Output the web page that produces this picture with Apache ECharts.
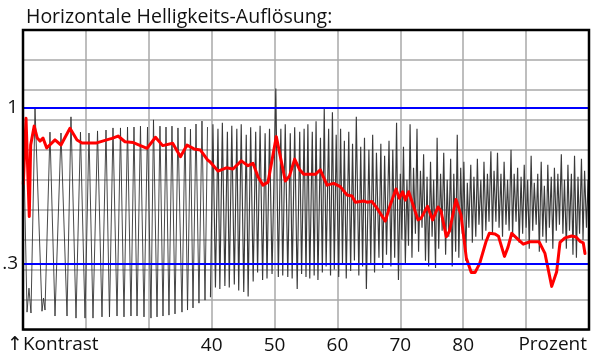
<!DOCTYPE html>
<html><head><meta charset="utf-8">
<script src="https://cdn.jsdelivr.net/npm/echarts@6/dist/echarts.min.js"></script>
<style>html,body{margin:0;padding:0;background:#fff}#c{width:600px;height:364px}</style>
</head><body><div id="c"></div>
<script>
// ---- data (x = Prozent 10..100, y = grid units, 0.1 decade each, 0 at bottom) ----
const titleText = 'Horizontale Helligkeits-Auflösung:';
const xLabeledTicks = [40, 50, 60, 70, 80];
const xLeftLabel = '\u2191Kontrast';
const xRightLabel = 'Prozent';
const refLevelNames = ['1', '.3'];
const refLevelValues = [7.41, 2.21];

const redLine = [
[10.05,4.86],[10.48,7.05],[11.0,3.77],[11.22,6.16],[11.78,6.79],[12.27,6.39],[12.70,6.29],[13.18,6.39],
[13.77,6.06],[15.09,6.33],[16.04,6.16],[17.47,6.72],[18.59,6.33],[19.38,6.23],[21.72,6.23],[23.31,6.33],
[24.15,6.38],[25.11,6.46],[26.22,6.27],[27.54,6.24],[29.72,6.05],[31.07,6.42],[32.21,6.14],[33.80,6.22],
[35.04,5.77],[36.08,6.16],[37.19,6.03],[38.22,5.99],[39.34,5.66],[39.73,5.60],[41.01,5.29],[42.33,5.40],
[43.39,5.36],[44.71,5.63],[45.78,5.47],[46.57,5.55],[47.37,5.10],[48.16,4.82],[48.96,4.92],[50.28,6.44],
[51.71,4.96],[52.38,5.13],[53.20,5.69],[54.0,5.33],[54.68,5.18],[56.48,5.18],[57.27,5.33],[58.34,4.82],
[59.40,4.88],[60.45,4.77],[61.52,4.49],[62.31,4.46],[62.84,4.25],[64.17,4.29],[64.70,4.25],[65.49,4.27],
[66.29,4.05],[67.61,3.62],[68.40,4.16],[69.31,4.69],[69.83,4.38],[70.37,4.60],[70.79,4.32],[71.33,4.60],
[72.81,3.66],[73.28,3.71],[74.32,4.11],[75.14,3.66],[75.99,4.09],[76.46,3.96],[77.31,3.10],[77.82,3.29],
[78.85,4.34],[79.65,3.82],[80.49,2.39],[81.28,1.90],[81.87,1.90],[82.62,2.21],[83.62,2.93],[84.15,3.21],
[85.05,3.19],[85.61,3.11],[86.56,2.44],[87.12,2.75],[87.71,3.21],[88.76,3.00],[89.55,2.85],[90.62,2.93],
[92.05,2.93],[92.21,2.99],[93.0,2.54],[94.07,1.44],[94.86,1.93],[95.39,2.91],[96.18,3.06],[97.25,3.12],
[97.93,3.09],[98.65,2.93],[99.09,2.89],[99.36,2.54]
];

const blackLine = [
[10.05,6.70],[10.64,0.58],[10.95,1.38],[11.27,0.55],[11.91,7.40],[13.02,0.61],[13.26,1.05],[13.50,0.65],
[14.29,6.59],[15.09,0.45],[16.04,6.56],[17.0,0.45],[17.63,7.10],[18.43,0.38],[19.14,6.59],[19.86,0.38],
[20.49,6.56],[21.13,0.38],[21.85,6.63],[22.56,0.42],[23.20,6.66],[23.75,0.42],[24.31,6.73],[24.95,0.45],
[25.50,6.73],[26.06,0.42],[26.62,6.76],[27.17,0.45],[27.65,6.76],[28.13,0.45],[28.68,6.79],[29.24,0.42],
[29.80,6.76],[30.35,0.38],[30.75,7.00],[31.31,0.42],[31.78,6.79],[32.26,0.45],[32.74,6.76],[33.21,0.48],
[33.69,6.79],[34.17,0.52],[34.64,6.73],[35.28,0.58],[35.76,6.76],[36.16,0.65],[36.63,6.69],[37.03,0.72],
[37.51,6.86],[37.98,0.88],[38.46,6.96],[38.94,0.98],[39.34,6.76],[39.81,1.08],
[40.2,6.85],[40.6,1.40],[41.0,6.70],[41.3,1.35],[41.7,6.90],[42.1,1.45],[42.5,6.60],[42.8,1.40],
[43.2,6.80],[43.6,1.50],[44.0,6.70],[44.3,1.30],[44.7,6.85],[45.1,1.25],[45.5,6.50],[45.8,1.10],
[46.2,6.75],[46.6,1.60],[47.0,6.60],[47.3,1.90],[47.7,6.80],[48.1,1.65],[48.5,6.55],[48.8,1.70],
[49.2,6.70],[49.6,1.85],[50.2,8.05],[50.6,1.75],[51.0,6.70],[51.3,1.80],[51.7,6.85],[52.1,1.75],
[52.5,6.55],[52.8,1.70],[53.2,6.75],[53.6,1.35],[54.0,6.60],[54.3,1.85],[54.7,6.70],
[55.0,1.75],[55.3,6.85],[55.6,1.70],[56.0,6.60],[56.3,1.80],[56.6,6.95],[56.9,1.65],[57.3,6.40],
[57.6,1.90],[57.9,7.40],[58.2,2.10],[58.6,6.70],[58.9,1.80],[59.2,7.25],[59.5,2.00],[59.8,6.50],
[60.2,1.75],[60.5,6.70],[60.8,2.20],[61.1,6.30],[61.4,1.70],[61.8,6.60],[62.1,1.95],[62.4,6.20],
[62.7,2.30],[63.0,7.10],[63.4,1.80],[63.7,6.10],[64.0,2.10],[64.3,6.40],[64.6,1.35],[65.0,6.00],
[65.3,2.20],[65.6,6.50],[65.9,1.90],[66.2,5.90],[66.6,2.40],[66.9,6.20],[67.2,2.05],[67.5,5.80],
[67.8,2.50],[68.2,6.30],[68.5,2.10],[68.8,6.00],[69.1,2.40],[69.4,6.90],
[69.7,1.65],[70.0,5.20],[70.25,3.00],[70.5,6.10],[70.8,2.20],[71.05,5.00],[71.3,2.80],[71.55,6.85],
[71.85,2.40],[72.1,5.40],[72.4,3.20],[72.65,6.70],[72.9,2.60],[73.2,5.30],[73.45,3.40],[73.7,5.85],
[74.0,2.30],[74.25,5.10],[74.5,2.10],[74.8,5.60],[75.05,3.10],[75.3,5.00],[75.6,2.05],[75.85,6.40],
[76.1,2.70],[76.4,5.20],[76.65,3.30],[76.9,5.90],[77.2,2.50],[77.45,5.00],[77.7,3.10],[78.0,5.70],
[78.25,2.10],[78.5,5.20],[78.8,2.60],[79.05,6.50],[79.3,2.40],[79.6,5.40],[79.85,3.20],[80.1,5.60],
[80.4,2.30],[80.65,4.90],[80.9,3.40],[81.2,5.50],[81.45,2.90],[81.7,5.10],[82.0,3.10],[82.25,5.70],
[82.5,3.50],[82.8,5.00],[83.05,3.00],[83.3,5.60],[83.6,3.30],[83.85,5.20],[84.1,3.60],[84.4,5.95],
[84.65,3.20],[84.9,5.30],[85.2,3.60],[85.45,5.90],[85.7,3.40],[86.0,5.20],[86.25,3.10],[86.5,5.60],
[86.8,3.50],[87.05,5.00],[87.3,3.30],[87.6,6.00],[87.85,3.10],[88.1,5.20],[88.4,3.60],[88.65,5.40],
[88.9,2.90],[89.2,5.10],[89.45,3.20],[89.7,5.50],[90.0,3.40],[90.25,5.00],[90.5,2.70],[90.8,5.80],
[91.05,3.30],[91.3,4.90],[91.6,3.50],[91.85,5.20],[92.1,2.60],[92.4,5.60],[92.65,3.10],[92.9,4.80],
[93.2,2.90],[93.45,5.50],[93.7,3.40],[94.0,5.10],[94.25,2.70],[94.5,5.40],[94.8,3.30],[95.05,5.20],
[95.3,3.50],[95.6,5.85],[95.85,3.20],[96.1,5.00],[96.4,2.70],[96.65,5.50],[96.9,3.30],[97.2,5.20],
[97.45,2.50],[97.7,5.80],[98.0,2.40],[98.25,5.10],[98.5,3.20],[98.8,5.70],[99.05,3.00],[99.3,5.30],
[99.6,3.40],[99.85,5.00],[100,3.40]
];

// split the trace where the oscillation gets dense (thicker-looking stroke there)
const denseFrom = 39.8;
const blackLeft = blackLine.filter(p => p[0] <= denseFrom + 0.01);
const blackRight = blackLine.filter(p => p[0] >= denseFrom - 0.01);

// ---- chart ----
const FONT = '"Open Sans", "DejaVu Sans", sans-serif';
const chart = echarts.init(document.getElementById('c'), null, {renderer: 'canvas'});
chart.setOption({
  animation: false,
  backgroundColor: '#fff',
  title: {
    text: titleText, left: 21, top: 2,
    textStyle: {fontFamily: FONT, fontSize: 19.5, fontWeight: 'normal', color: '#111'}
  },
  grid: {left: 23, right: 11, top: 30, bottom: 34.5, show: true, z: 10,
         backgroundColor: 'transparent', borderColor: '#000', borderWidth: 2.5},
  xAxis: {
    type: 'value', min: 10, max: 100, interval: 10,
    axisLine: {show: false}, axisTick: {show: false},
    splitLine: {show: true, lineStyle: {color: '#a8a8a8', width: 1.5}},
    axisLabel: {
      margin: 7, fontFamily: FONT, fontSize: 19, color: '#111',
      formatter: v => xLabeledTicks.indexOf(v) >= 0 ? String(v) : ''
    }
  },
  yAxis: {
    type: 'value', min: 0, max: 10, interval: 1,
    axisLine: {show: false}, axisTick: {show: false}, axisLabel: {show: false},
    splitLine: {show: true, lineStyle: {color: '#a8a8a8', width: 1.5}}
  },
  graphic: [
    {type: 'text', left: 7, top: 335, style: {text: xLeftLabel, font: '19px ' + FONT, fill: '#111'}},
    {type: 'text', right: 13, top: 335, style: {text: xRightLabel, font: '19px ' + FONT, fill: '#111'}}
  ],
  series: [
    {
      type: 'line', data: blackLeft, showSymbol: false, z: 2,
      lineStyle: {color: '#333', width: 0.9}
    },
    {
      type: 'line', data: blackRight, showSymbol: false, z: 2,
      lineStyle: {color: '#3a3a3a', width: 1.15}
    },
    {
      type: 'line', data: [], z: 3,
      markLine: {
        silent: true, symbol: 'none',
        lineStyle: {color: '#0000ff', width: 2, type: 'solid'},
        label: {position: 'start', distance: 5, fontFamily: FONT, fontSize: 19, color: '#111',
                formatter: p => p.name},
        data: refLevelValues.map((v, i) => ({yAxis: v, name: refLevelNames[i]}))
      }
    },
    {
      type: 'line', data: redLine, showSymbol: false, z: 4,
      lineStyle: {color: '#ff0000', width: 3, join: 'round', cap: 'round'}
    }
  ]
});
</script>
</body></html>
